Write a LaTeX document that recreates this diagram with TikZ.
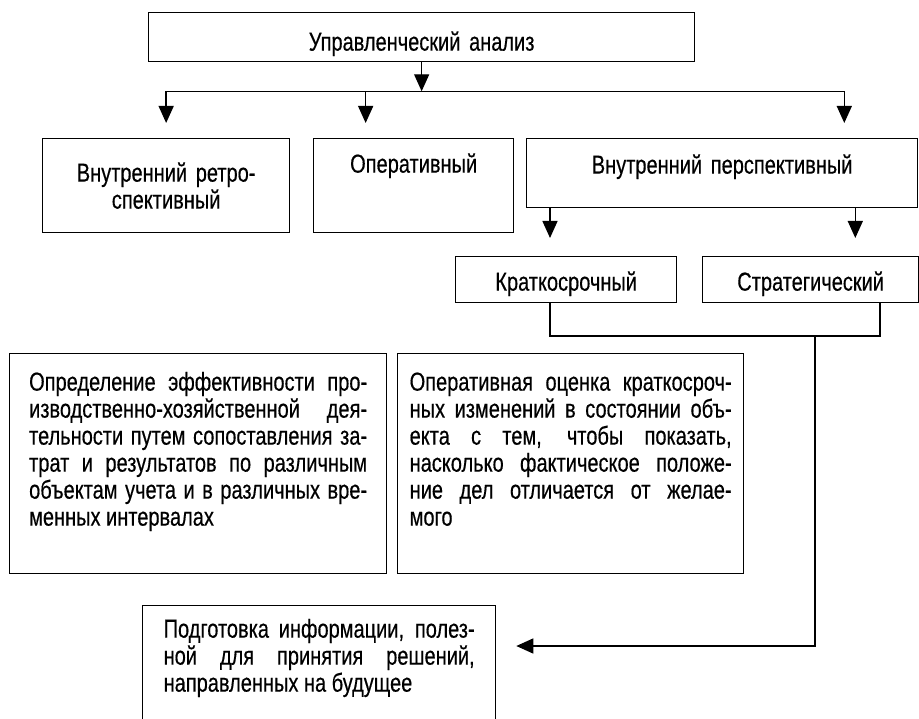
\documentclass[tikz,border=0pt]{standalone}
\usepackage{fontspec}
\setmainfont{Liberation Sans}[FakeStretch=0.77,FakeBold=0.4]
\usetikzlibrary{arrows.meta}
\begin{document}
\begin{tikzpicture}[x=1pt,y=-1pt,
    every node/.style={font=\fontsize{26}{27}\selectfont, inner sep=0pt},
    box/.style={draw, line width=1.3pt, anchor=north west},
    txt/.style={box, align=justify, text height=37pt, text depth=183pt},
    line/.style={draw, line width=1.4pt},
    arr/.style={line, -{Triangle[length=17pt,width=15pt]}}]
    \useasboundingbox (0,0) rectangle (919,719);
    \clip (0,0) rectangle (919,719);
    \hyphenpenalty=10000 \exhyphenpenalty=10000 \tolerance=10000
    \node [box, text width=546pt, align=center, text height=38pt, text depth=11pt] (top) at (148,12) {Управленческий анализ};
    \node [box, text width=247pt, align=center, text height=43pt, text depth=51pt] (retro) at (42,138) {Внутренний ретро-\\спективный};
    \node [box, text width=200pt, align=center, text height=34pt, text depth=60pt] (oper) at (313,138) {Оперативный};
    \node [box, text width=391pt, align=center, text height=35pt, text depth=34pt] (persp) at (526,138) {Внутренний перспективный};
    \node [box, text width=221pt, align=center, text height=34pt, text depth=12pt] (short) at (455,256) {Краткосрочный};
    \node [box, text width=216pt, align=center, text height=34pt, text depth=12pt] (strat) at (702,256) {Стратегический};
    \node [txt, inner xsep=19.5pt, text width=338pt] (effect) at (9,353) {Определение эффективности про-\linebreak изводственно-хозяйственной дея-\linebreak тельности путем сопоставления за-\linebreak трат и результатов по различным\linebreak объектам учета и в различных вре-\linebreak менных интервалах};
    \node [txt, inner xsep=12pt, text width=322pt] (assess) at (397,353) {Оперативная оценка краткосроч-\linebreak ных изменений в состоянии объ-\linebreak екта с тем, чтобы показать,\linebreak насколько фактическое положе-\linebreak ние дел отличается от желае-\linebreak мого};
    \node [txt, inner xsep=21pt, text width=311pt, text height=32pt, text depth=150pt] (future) at (142,605) {Подготовка информации, полез-\linebreak ной для принятия решений,\linebreak направленных на будущее};
    \coordinate (split) at ([yshift=-29pt]top.south);
    \coordinate (oleft) at ([xshift=-48pt]oper.north);
    \coordinate (pright) at ([xshift=-74pt]persp.north east);
    \coordinate (pl) at ([xshift=24pt]persp.south west);
    \coordinate (pr) at ([xshift=-63pt]persp.south east);
    \coordinate (kx) at (550,336);
    \coordinate (sx) at (880,336);
    \coordinate (fx) at (815,646);
    \draw [arr] (top.south) -- (split);
    \draw [line] (split -| retro.north) -- (split -| pright);
    \draw [arr, shorten >=15pt] (split -| retro.north) -- (retro.north);
    \draw [arr, shorten >=15pt] (split -| oleft) -- (oleft);
    \draw [arr, shorten >=15pt] (split -| pright) -- (pright);
    \draw [arr, shorten >=18pt] (pl) -- (pl |- short.north);
    \draw [arr, shorten >=18pt] (pr) -- (pr |- strat.north);
    \draw [line] (kx |- short.south) -- (kx) -- (sx) -- (sx |- strat.south);
    \draw [arr, shorten >=20pt] (fx |- kx) -- (fx) -- (fx -| future.east);
\end{tikzpicture}
\end{document}
